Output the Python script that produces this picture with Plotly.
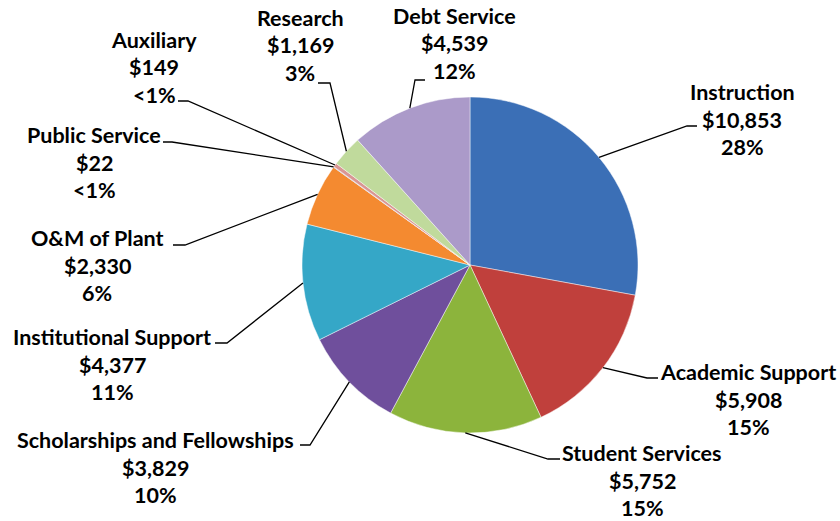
import math
import plotly.graph_objects as go

# Expenditures by function (in thousands of dollars)
categories = [
    "Instruction", "Academic Support", "Student Services",
    "Scholarships and Fellowships", "Institutional Support", "O&M of Plant",
    "Public Service", "Auxiliary", "Research", "Debt Service",
]
amounts = [10853, 5908, 5752, 3829, 4377, 2330, 22, 149, 1169, 4539]
colors = [
    "#3b6fb6", "#c0403c", "#8cb43c", "#6f4f9c", "#35a7c7", "#f48a30",
    "#95b3d7", "#d99694", "#c0da9c", "#ab9ac9",
]

W, H = 840, 521
CX, CY, R = 470, 265, 168  # pie centre and radius in pixels

# Label placement: centre x, first-line y, elbow and end of the leader line
label_x = [742, 748, 642, 155, 112, 97, 94, 154, 300, 455]
label_y = [92, 372, 453, 440, 337, 238, 135, 40, 18, 16]
elbow = [(687, 126), (647, 378), (548, 459), (310, 445), (227, 343),
         (185, 245), (172, 142), (188, 101), (330, 83), (415, 80)]
tick_end = [(697, 126), (658, 378), (560, 459), (300, 445), (215, 343),
            (173, 245), (163, 142), (178, 101), (318, 83), (425, 80)]
LINE_GAP = 27.5


def px(x):
    return x / W


def py(y):
    return 1 - y / H


total = sum(amounts)

fig = go.Figure(go.Pie(
    labels=categories,
    values=amounts,
    sort=False,
    direction="clockwise",
    rotation=0,
    textinfo="none",
    hoverinfo="label+value+percent",
    marker=dict(colors=colors, line=dict(color="rgba(255,255,255,0.45)", width=1)),
    domain=dict(x=[px(CX - R), px(CX + R)], y=[py(CY + R), py(CY - R)]),
    showlegend=False,
))

annotations = []
shapes = []
cum = 0
for i, (name, v) in enumerate(zip(categories, amounts)):
    share = v / total
    mid = (cum + v / 2) / total * 2 * math.pi
    cum += v
    ex = CX + R * math.sin(mid)
    ey = CY - R * math.cos(mid)
    pct = share * 100
    pct_txt = "<1%" if pct < 1 else f"{round(pct)}%"
    lines = [name, f"${v:,}", pct_txt]
    for k, t in enumerate(lines):
        annotations.append(dict(
            x=px(label_x[i]), y=py(label_y[i] + k * LINE_GAP),
            xref="paper", yref="paper", text=t, showarrow=False,
            xanchor="center", yanchor="middle", borderpad=0,
            font=dict(family="Lato", size=21.5, color="#000000", weight="bold"),
        ))
    (bx, by), (tx, ty) = elbow[i], tick_end[i]
    shapes.append(dict(
        type="path", xref="paper", yref="paper",
        path=f"M {px(ex)} {py(ey)} L {px(bx)} {py(by)} L {px(tx)} {py(ty)}",
        line=dict(color="black", width=1.3),
    ))

fig.update_layout(
    width=W, height=H,
    margin=dict(l=0, r=0, t=0, b=0),
    paper_bgcolor="white", plot_bgcolor="white",
    annotations=annotations, shapes=shapes,
)

fig.write_html("out.html")
